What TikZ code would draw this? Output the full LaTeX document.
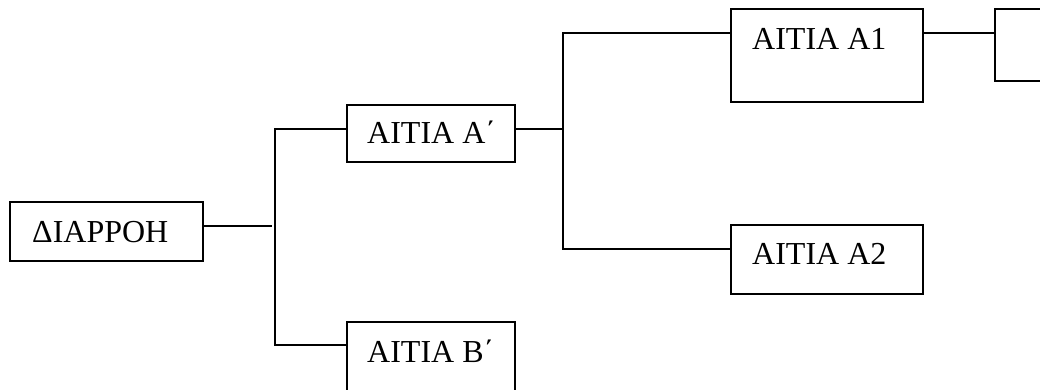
\documentclass[tikz,border=0pt]{standalone}
\usepackage{fontspec}
\setmainfont{Liberation Serif}
\newfontfamily\grfont[Script=Greek]{Liberation Serif}
\begin{document}
\begin{tikzpicture}[x=1pt,y=-1pt,
  box/.style={draw=black,line width=2pt,fill=white,inner sep=0pt,outer sep=0pt},
  conn/.style={draw=black,line width=2pt},
  lbl/.style={anchor=base west,inner sep=0pt,font=\grfont\fontsize{32}{32}\selectfont}]
\clip (0,0) rectangle (1040,390);
\fill[white] (0,0) rectangle (1040,390);

% boxes
\node[box,minimum width=193pt,minimum height=59pt] (d)  at (106.5,231.5) {};
\node[box,minimum width=168pt,minimum height=57pt] (aA) at (431,133.5) {};
\node[box,minimum width=168pt,minimum height=70pt] (aB) at (431,357) {};
\node[box,minimum width=192pt,minimum height=93pt] (a1) at (827,55.5) {};
\node[box,minimum width=192pt,minimum height=69pt] (a2) at (827,259.5) {};
\node[box,minimum width=70pt,minimum height=72pt]  (r)  at (1030,45) {};

% labels
\node[lbl] (td)  at (32,242)  {ΔΙΑΡΡΟΗ};
\node[lbl] (tA)  at (367,144) {ΑΙΤΙΑ Α΄};
\node[lbl] (tB)  at (367,362) {ΑΙΤΙΑ Β΄};
\node[lbl] (t1)  at (752,50)  {ΑΙΤΙΑ Α1};
\node[lbl] (t2)  at (752,264) {ΑΙΤΙΑ Α2};

% branch points
\coordinate (dj)  at (272,226);
\coordinate (b1t) at (275,129);
\coordinate (b1b) at (275,345);
\coordinate (b2m) at (563,129);
\coordinate (b2t) at (563,33);
\coordinate (b2b) at (563,249);

% connectors
\draw[conn] (d.east |- dj) -- (dj);
\draw[conn] (aA.west |- b1t) -- (b1t) -- (b1b) -- (aB.west |- b1b);
\draw[conn] (aA.east |- b2m) -- (b2m);
\draw[conn] (a1.west |- b2t) -- (b2t) -- (b2b) -- (a2.west |- b2b);
\draw[conn] (a1.east |- b2t) -- (r.west |- b2t);
\end{tikzpicture}
\end{document}
